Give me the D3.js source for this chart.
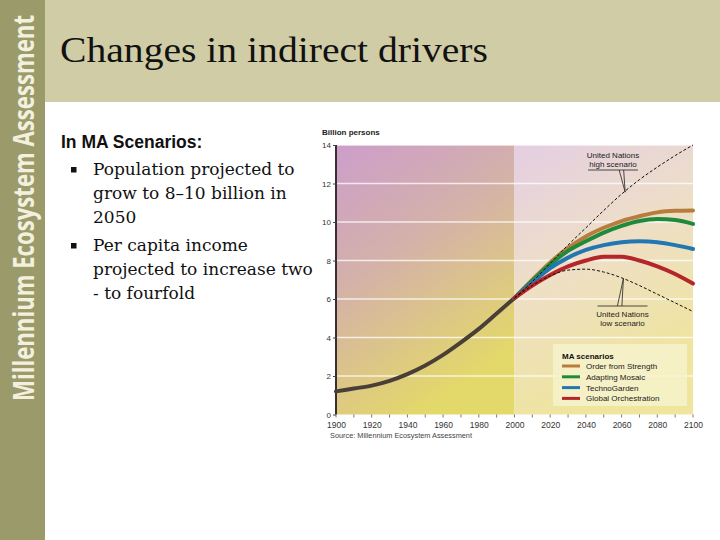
<!DOCTYPE html>
<html>
<head>
<meta charset="utf-8">
<script src="https://cdn.jsdelivr.net/npm/d3@7"></script>
<style>
  html, body { margin: 0; padding: 0; background: #fff; }
  svg { display: block; }
</style>
</head>
<body>
<svg id="slide" width="720" height="540"></svg>
<script>
// Population: history + MA scenarios (billion persons)
const histYears = [1900, 1910, 1920, 1930, 1940, 1950, 1960, 1970, 1980, 1990, 2000];
const histPop   = [1.2, 1.35, 1.5, 1.75, 2.1, 2.55, 3.1, 3.75, 4.45, 5.25, 6.05];

const projYears = [2000, 2010, 2020, 2030, 2040, 2050, 2060, 2070, 2080, 2090, 2100];
const orderFromStrength   = [6.05, 7.0, 7.9, 8.65, 9.25, 9.7, 10.05, 10.3, 10.5, 10.58, 10.6];
const adaptingMosaic      = [6.05, 6.95, 7.8, 8.5, 9.0, 9.45, 9.8, 10.05, 10.15, 10.1, 9.9];
const technoGarden        = [6.05, 6.85, 7.6, 8.15, 8.55, 8.8, 8.95, 9.0, 8.95, 8.8, 8.6];
const globalOrchestration = [6.05, 6.7, 7.25, 7.7, 8.0, 8.2, 8.2, 8.0, 7.7, 7.3, 6.8];
const unHigh = [6.05, 6.9, 7.85, 8.8, 9.7, 10.6, 11.45, 12.2, 12.85, 13.45, 14.0];
const unLow  = [6.05, 6.7, 7.2, 7.5, 7.55, 7.4, 7.1, 6.7, 6.25, 5.8, 5.35];

const scenarioNames = ["Order from Strength", "Adapting Mosaic", "TechnoGarden", "Global Orchestration"];
const scenarioColors = ["#b87d3c", "#1f8a3c", "#2277b3", "#b5262a"];
const scenarioSeries = [orderFromStrength, adaptingMosaic, technoGarden, globalOrchestration];

const yTicks = [0, 2, 4, 6, 8, 10, 12, 14];
const xLabelTicks = [1900, 1920, 1940, 1960, 1980, 2000, 2020, 2040, 2060, 2080, 2100];
const xMinorTicks = d3.range(1900, 2101, 10);

const bulletLines = [
  ["Population projected to", "grow to 8\u201310 billion in", "2050"],
  ["Per capita income", "projected to increase two", "- to fourfold"]
];

const svg = d3.select("#slide");

// ---- slide chrome ----
svg.append("rect").attr("x", 0).attr("y", 0).attr("width", 45).attr("height", 540).attr("fill", "#9b9a6b");
svg.append("rect").attr("x", 45).attr("y", 0).attr("width", 675).attr("height", 102).attr("fill", "#cfcca6");

// vertical brand text: smaller font stretched tall, so it reads condensed
svg.append("text")
  .attr("transform", "translate(34,401) rotate(-90) scale(1,1.33)")
  .attr("font-family", "'Open Sans', 'DejaVu Sans', sans-serif")
  .attr("font-weight", 700)
  .attr("font-size", 21)
  .attr("fill", "#f3f0de")
  .attr("textLength", 386)
  .attr("lengthAdjust", "spacingAndGlyphs")
  .text("Millennium Ecosystem Assessment");

svg.append("text")
  .attr("x", 60).attr("y", 62)
  .attr("font-family", "'Liberation Serif', serif")
  .attr("font-size", 35)
  .attr("fill", "#111")
  .attr("textLength", 428)
  .attr("lengthAdjust", "spacingAndGlyphs")
  .text("Changes in indirect drivers");

// ---- left text ----
svg.append("text")
  .attr("x", 61).attr("y", 148)
  .attr("font-family", "'Liberation Sans', Arial, sans-serif")
  .attr("font-weight", 700)
  .attr("font-size", 17.5)
  .attr("fill", "#111")
  .text("In MA Scenarios:");

const lineStarts = [175, 251];
bulletLines.forEach((lines, i) => {
  const y0 = lineStarts[i];
  svg.append("rect")
    .attr("x", 71).attr("y", y0 - 8).attr("width", 5.5).attr("height", 5.5)
    .attr("fill", "#111");
  lines.forEach((t, j) => {
    svg.append("text")
      .attr("x", 93).attr("y", y0 + j * 24)
      .attr("font-family", "'DejaVu Serif', serif")
      .attr("font-size", 17)
      .attr("fill", "#111")
      .text(t);
  });
});

// ---- chart ----
const x = d3.scaleLinear().domain([1900, 2100]).range([336, 693]);
const y = d3.scaleLinear().domain([0, 14]).range([414.5, 145]);

const defs = svg.append("defs");
const gHist = defs.append("linearGradient").attr("id", "bgHist")
  .attr("x1", "0").attr("y1", "0").attr("x2", "0.45").attr("y2", "1");
gHist.append("stop").attr("offset", "0%").attr("stop-color", "#cc9ecb");
gHist.append("stop").attr("offset", "45%").attr("stop-color", "#d4b1a9");
gHist.append("stop").attr("offset", "100%").attr("stop-color", "#e3d86a");

const gProj = defs.append("linearGradient").attr("id", "bgProj")
  .attr("x1", "0").attr("y1", "0").attr("x2", "0.35").attr("y2", "1");
gProj.append("stop").attr("offset", "0%").attr("stop-color", "#e4cee3");
gProj.append("stop").attr("offset", "50%").attr("stop-color", "#eedfc6");
gProj.append("stop").attr("offset", "100%").attr("stop-color", "#efe59c");

svg.append("rect")
  .attr("x", x(1900)).attr("y", y(14))
  .attr("width", x(2000) - x(1900)).attr("height", y(0) - y(14))
  .attr("fill", "url(#bgHist)");
svg.append("rect")
  .attr("x", x(2000)).attr("y", y(14))
  .attr("width", x(2100) - x(2000)).attr("height", y(0) - y(14))
  .attr("fill", "url(#bgProj)");

// gridlines
svg.append("g")
  .selectAll("line")
  .data(yTicks.filter(d => d > 0))
  .join("line")
  .attr("x1", x(1900)).attr("x2", x(2100))
  .attr("y1", d => y(d)).attr("y2", d => y(d))
  .attr("stroke", "#fff")
  .attr("stroke-opacity", 0.75)
  .attr("stroke-width", 1.3);

// y axis
const yAxis = d3.axisLeft(y).tickValues(yTicks).tickSize(3).tickPadding(2);
svg.append("g")
  .attr("transform", `translate(${x(1900)},0)`)
  .call(yAxis)
  .call(s => s.select(".domain").attr("stroke", "#3a2d33").attr("stroke-width", 2).attr("d", `M0,${y(14)}V${y(0)}`))
  .call(s => s.selectAll(".tick line").attr("stroke", "#444"))
  .call(s => s.selectAll("text")
    .attr("font-family", "'Liberation Sans', Arial, sans-serif")
    .attr("font-size", 8).attr("fill", "#333"));

// x axis
const xAxis = d3.axisBottom(x).tickValues(xLabelTicks).tickFormat(d3.format("d")).tickSize(0).tickPadding(7);
svg.append("g")
  .attr("transform", `translate(0,${y(0)})`)
  .call(xAxis)
  .call(s => s.select(".domain").remove())
  .call(s => s.selectAll("text")
    .attr("font-family", "'Liberation Sans', Arial, sans-serif")
    .attr("font-size", 8.5).attr("fill", "#333"));
svg.append("g")
  .selectAll("line")
  .data(xMinorTicks)
  .join("line")
  .attr("x1", d => x(d)).attr("x2", d => x(d))
  .attr("y1", y(0)).attr("y2", y(0) + 3)
  .attr("stroke", "#555").attr("stroke-width", 0.8);

svg.append("text")
  .attr("x", 322).attr("y", 134.5)
  .attr("font-family", "'Liberation Sans', Arial, sans-serif")
  .attr("font-weight", 700).attr("font-size", 8)
  .attr("fill", "#222")
  .text("Billion persons");

svg.append("text")
  .attr("x", 330).attr("y", 438)
  .attr("font-family", "'Liberation Sans', Arial, sans-serif")
  .attr("font-size", 7.5).attr("fill", "#444")
  .attr("textLength", 142).attr("lengthAdjust", "spacingAndGlyphs")
  .text("Source: Millennium Ecosystem Assessment");

// lines
const line = d3.line()
  .x(d => x(d[0])).y(d => y(d[1]))
  .curve(d3.curveMonotoneX);

svg.append("path")
  .datum(histYears.map((yr, i) => [yr, histPop[i]]))
  .attr("d", line)
  .attr("fill", "none")
  .attr("stroke", "#4a3f37")
  .attr("stroke-width", 4)
  .attr("stroke-linecap", "round");

svg.append("g")
  .selectAll("path")
  .data(scenarioSeries)
  .join("path")
  .attr("d", s => line(projYears.map((yr, i) => [yr, s[i]])))
  .attr("fill", "none")
  .attr("stroke", (s, i) => scenarioColors[i])
  .attr("stroke-width", 4)
  .attr("stroke-linecap", "round");

svg.append("g")
  .selectAll("path")
  .data([unHigh, unLow])
  .join("path")
  .attr("d", s => line(projYears.map((yr, i) => [yr, s[i]])))
  .attr("fill", "none")
  .attr("stroke", "#111")
  .attr("stroke-width", 1)
  .attr("stroke-dasharray", "3,2");

// UN annotations
function annotate(lines, cx, ty, barY, tipX, tipY) {
  const g = svg.append("g");
  lines.forEach((t, i) => {
    g.append("text")
      .attr("x", cx).attr("y", ty + i * 9)
      .attr("text-anchor", "middle")
      .attr("font-family", "'Liberation Sans', Arial, sans-serif")
      .attr("font-size", 8).attr("fill", "#222")
      .text(t);
  });
  g.append("line")
    .attr("x1", cx - 25).attr("x2", cx + 25)
    .attr("y1", barY).attr("y2", barY)
    .attr("stroke", "#222").attr("stroke-width", 0.8);
  g.append("path")
    .attr("d", `M${tipX - 6},${barY}L${tipX},${tipY}L${tipX - 1.5},${barY}`)
    .attr("fill", "none").attr("stroke", "#222").attr("stroke-width", 0.8);
}
annotate(["United Nations", "high scenario"], 613, 157.5, 170, x(2062), y(11.55));
annotate(["United Nations", "low scenario"], 622.5, 317, 306, x(2061), y(7.05));

// legend
const lg = svg.append("g").attr("transform", "translate(553,344)");
lg.append("rect")
  .attr("width", 134).attr("height", 62)
  .attr("fill", "#f7f2cc").attr("fill-opacity", 0.85);
lg.append("text")
  .attr("x", 9).attr("y", 14.5)
  .attr("font-family", "'Liberation Sans', Arial, sans-serif")
  .attr("font-weight", 700).attr("font-size", 8).attr("fill", "#111")
  .text("MA scenarios");
const items = lg.selectAll("g.item")
  .data(scenarioNames)
  .join("g")
  .attr("class", "item")
  .attr("transform", (d, i) => `translate(9,${22 + i * 10.8})`);
items.append("line")
  .attr("x1", 0).attr("x2", 18)
  .attr("stroke", (d, i) => scenarioColors[i])
  .attr("stroke-width", 3);
items.append("text")
  .attr("x", 24).attr("y", 3)
  .attr("font-family", "'Liberation Sans', Arial, sans-serif")
  .attr("font-size", 8).attr("fill", "#222")
  .text(d => d);
</script>
</body>
</html>
